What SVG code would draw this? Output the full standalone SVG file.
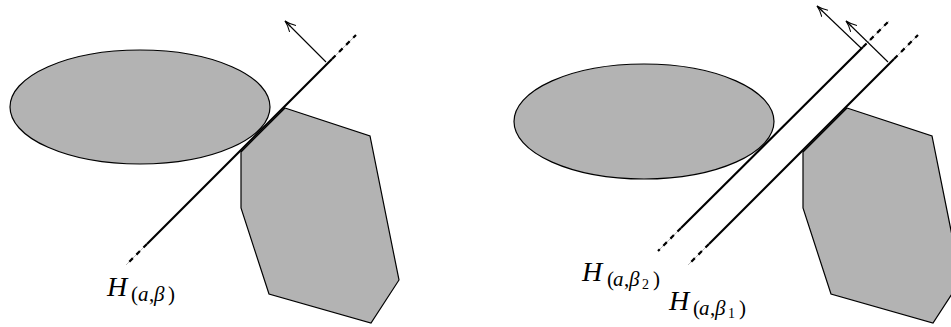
<svg xmlns="http://www.w3.org/2000/svg" width="951" height="327" viewBox="0 0 951 327">
<style>
.shape{fill:#b3b3b3;stroke:#000;stroke-width:1.2}
.solid{stroke:#000;stroke-width:2.2;fill:none;stroke-linecap:butt}
.ext{stroke:#aaa;stroke-width:0.8;fill:none}
.dash{stroke:#000;stroke-width:2.2;fill:none;stroke-dasharray:5,5}
.arrow{stroke:#000;stroke-width:1.1;fill:none;marker-end:url(#ah)}
.H{font-family:"Liberation Serif",serif;font-style:italic;font-size:28px;fill:#000}
.s{font-family:"Liberation Serif",serif;font-size:21px;fill:#000}
.si{font-style:italic}
.ss{font-size:14px}
</style>
<defs>
<marker id="ah" viewBox="0 0 12 10" refX="11" refY="5" markerWidth="12" markerHeight="10" markerUnits="userSpaceOnUse" orient="auto">
<path d="M0,0.5 Q6,4 11,5 Q6,6 0,9.5 M3,5 L11,5" fill="none" stroke="#000" stroke-width="1"/>
</marker>
</defs>
<g id="ellipse-left"><ellipse class="shape" cx="140" cy="107" rx="130" ry="57"/></g>
<g id="polygon-left"><polygon class="shape" points="285,108 370,136 399,280 371,323 269,294 241,208 241,152"/></g>
<g id="ellipse-right"><ellipse class="shape" cx="644" cy="121.5" rx="130" ry="57.5"/></g>
<g id="polygon-right"><polygon class="shape" points="847,108 932,136 961,280 933,323 831,294 803,208 803,152"/></g>
<g id="connectors">
<line class="ext" x1="126" y1="265" x2="356" y2="35"/>
<line class="solid" x1="147" y1="244" x2="332" y2="59"/>
<line class="dash" x1="147" y1="244" x2="126" y2="265"/>
<line class="dash" x1="332" y1="59" x2="356" y2="35"/>
<line class="arrow" x1="326" y1="62" x2="285" y2="21"/>
<line class="ext" x1="658" y1="251" x2="889" y2="21"/>
<line class="solid" x1="681" y1="228" x2="863" y2="47"/>
<line class="dash" x1="681" y1="228" x2="658" y2="251"/>
<line class="dash" x1="863" y1="47" x2="889" y2="21"/>
<line class="arrow" x1="861" y1="48" x2="817" y2="6"/>
<line class="ext" x1="688" y1="265" x2="918" y2="35"/>
<line class="solid" x1="709" y1="244" x2="894" y2="59"/>
<line class="dash" x1="709" y1="244" x2="688" y2="265"/>
<line class="dash" x1="894" y1="59" x2="918" y2="35"/>
<line class="arrow" x1="888" y1="62" x2="846" y2="21"/>
</g>
<g id="label-left">
<text class="H" x="107" y="296">H</text>
<text class="s" y="301"><tspan x="131">(</tspan><tspan class="si" x="138">a</tspan><tspan x="149">,</tspan><tspan class="si" x="154">β</tspan><tspan x="168">)</tspan></text>
</g>
<g id="label-beta2">
<text class="H" x="582" y="281">H</text>
<text class="s" y="286"><tspan x="607">(</tspan><tspan class="si" x="613">a</tspan><tspan x="624">,</tspan><tspan class="si" x="629">β</tspan><tspan class="ss" x="642" dy="3">2</tspan><tspan x="653" dy="-3">)</tspan></text>
</g>
<g id="label-beta1">
<text class="H" x="669" y="310">H</text>
<text class="s" y="315"><tspan x="693">(</tspan><tspan class="si" x="699">a</tspan><tspan x="710">,</tspan><tspan class="si" x="715">β</tspan><tspan class="ss" x="728" dy="3">1</tspan><tspan x="739" dy="-3">)</tspan></text>
</g>
</svg>
